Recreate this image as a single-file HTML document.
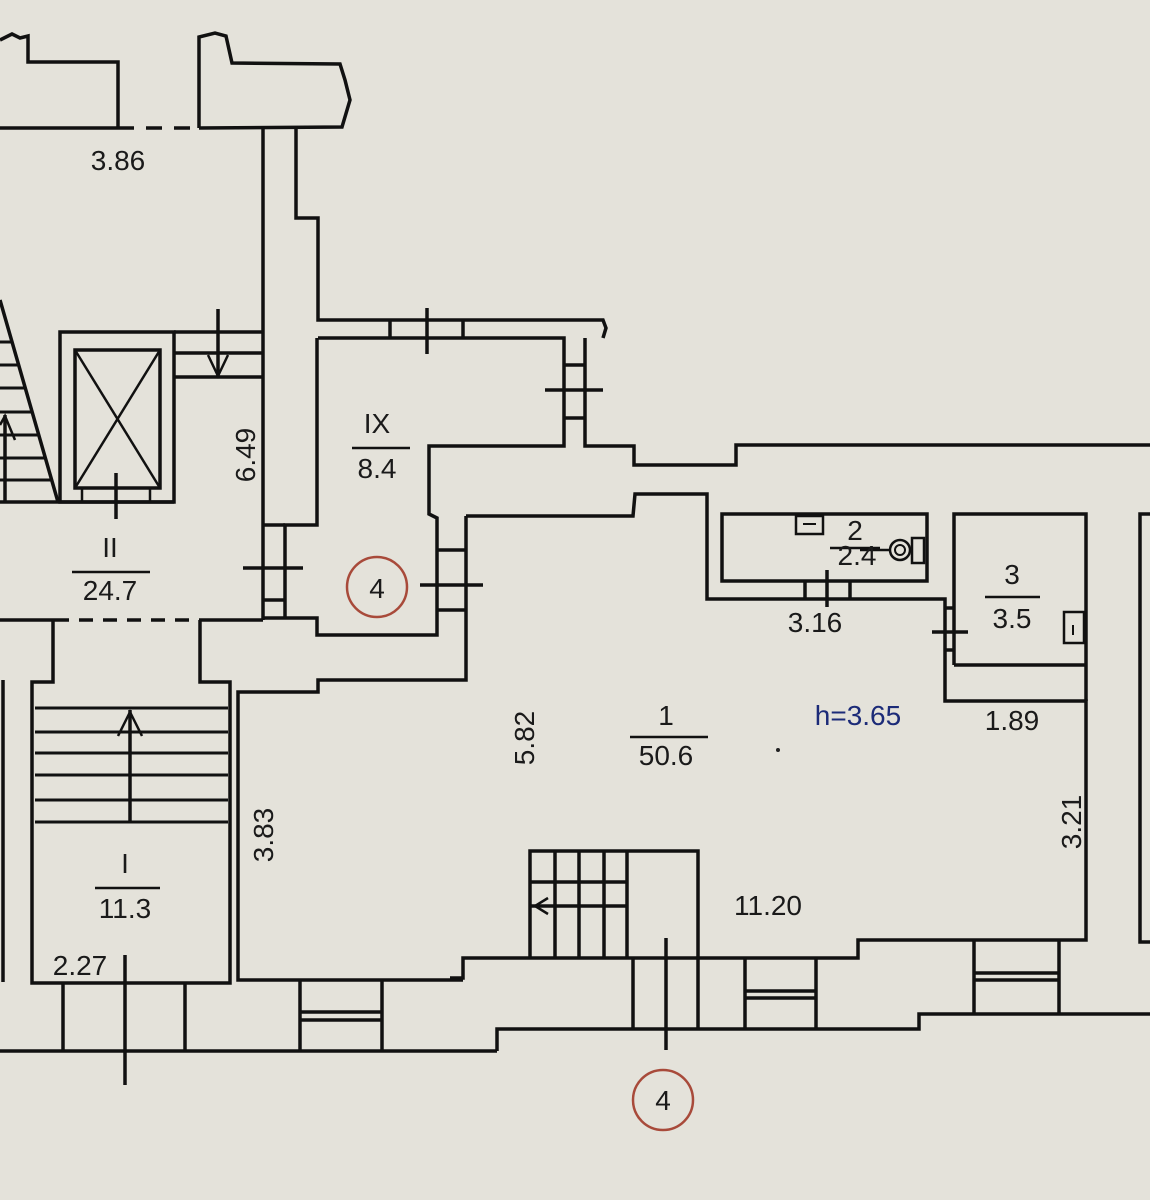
<!DOCTYPE html>
<html><head><meta charset="utf-8"><style>
html,body{margin:0;padding:0;background:#e4e2da;}
svg{display:block}
text{font-family:"Liberation Sans",sans-serif;font-size:28px;fill:#1a1a1a;text-anchor:middle}
</style></head><body>
<svg width="1150" height="1200" viewBox="0 0 1150 1200" xmlns="http://www.w3.org/2000/svg">
<rect width="1150" height="1200" fill="#e4e2da"/>
<g fill="none" stroke="#111" stroke-width="3.5" stroke-linejoin="miter">
<!-- top left -->
<polyline points="0,40 12,34 20,38 28,36 28,62 118,62 118,128"/>
<line x1="0" y1="128" x2="118" y2="128"/>
<line x1="118" y1="128" x2="200" y2="128" stroke-dasharray="16,12"/>
<polyline points="199,128 199,37 215,33 226,36 232,63 340,64 345,80 350,100 342,127 199,128"/>
<line x1="263" y1="128" x2="263" y2="620"/>
<polyline points="296,129 296,218 318,218 318,320 603,320 606,328 603,338"/>
<!-- IX room -->
<polyline points="318,338 564,338 564,446 429,446 429,514 437,518 437,635 317,635 317,618 263,618"/>
<polyline points="317,338 317,525 285,525 285,618"/>
<line x1="263" y1="525" x2="285" y2="525"/><line x1="263" y1="600" x2="285" y2="600"/>
<line x1="243" y1="568" x2="303" y2="568"/>
<line x1="390" y1="320" x2="390" y2="338"/><line x1="463" y1="320" x2="463" y2="338"/>
<line x1="427" y1="308" x2="427" y2="354"/>
<polyline points="585,338 585,446 634,446 634,465 736,465 736,445 1150,445"/>
<line x1="564" y1="365" x2="585" y2="365"/><line x1="564" y1="418" x2="585" y2="418"/>
<line x1="545" y1="390" x2="603" y2="390"/>
<line x1="437" y1="550" x2="466" y2="550"/><line x1="437" y1="610" x2="466" y2="610"/>
<line x1="420" y1="585" x2="483" y2="585"/>
<!-- room 1 -->
<polyline points="466,516 633,516 635,494 707,494 707,599 945,599 945,701 1086,701 1086,940 858,940 858,958 463,958 463,978 450,978"/>
<polyline points="466,516 466,680 318,680 318,692 238,692 238,980 463,980"/>
<!-- room 2 -->
<rect x="722" y="514" width="205" height="67"/>
<line x1="805" y1="581" x2="805" y2="599"/><line x1="850" y1="581" x2="850" y2="599"/>
<line x1="827" y1="570" x2="827" y2="607"/>
<rect x="796" y="516" width="27" height="18" stroke-width="2.5"/>
<line x1="803" y1="524" x2="816" y2="524" stroke-width="2"/>
<circle cx="900" cy="550" r="10" stroke-width="2.5"/><circle cx="900" cy="550" r="5" stroke-width="2"/>
<rect x="912" y="538" width="12" height="25" stroke-width="2.5"/>
<line x1="860" y1="550" x2="890" y2="550" stroke-width="2.5"/>
<!-- room 3 -->
<polyline points="954,665 954,514 1086,514 1086,701"/>
<line x1="954" y1="665" x2="1086" y2="665"/>
<line x1="945" y1="608" x2="954" y2="608"/><line x1="945" y1="650" x2="954" y2="650"/>
<line x1="932" y1="632" x2="968" y2="632"/>
<rect x="1064" y="612" width="20" height="31" stroke-width="2.5"/>
<line x1="1073" y1="625" x2="1073" y2="635" stroke-width="2"/>
<polyline points="1150,514 1140,514 1140,942 1150,942"/>
<!-- room 1 stairs -->
<polyline points="530,958 530,851 698,851 698,958"/>
<line x1="555" y1="851" x2="555" y2="958"/><line x1="579" y1="851" x2="579" y2="958"/>
<line x1="604" y1="851" x2="604" y2="958"/><line x1="627" y1="851" x2="627" y2="958"/>
<line x1="530" y1="882" x2="627" y2="882"/><line x1="530" y1="906" x2="627" y2="906"/>
<polyline points="548,898 535,906 548,914" stroke-width="2.5"/>
<line x1="666" y1="938" x2="666" y2="1050"/>
<!-- bottom band -->
<line x1="0" y1="1051" x2="497" y2="1051"/>
<polyline points="497,1051 497,1029 919,1029 919,1014 1150,1014"/>
<line x1="63" y1="983" x2="63" y2="1051"/><line x1="185" y1="983" x2="185" y2="1051"/>
<line x1="300" y1="980" x2="300" y2="1051"/><line x1="382" y1="980" x2="382" y2="1051"/>
<line x1="300" y1="1012" x2="382" y2="1012"/><line x1="300" y1="1020" x2="382" y2="1020"/>
<line x1="125" y1="955" x2="125" y2="1085"/>
<line x1="633" y1="958" x2="633" y2="1029"/><line x1="698" y1="958" x2="698" y2="1029"/>
<line x1="745" y1="958" x2="745" y2="1029"/><line x1="816" y1="958" x2="816" y2="1029"/>
<line x1="745" y1="991" x2="816" y2="991"/><line x1="745" y1="998" x2="816" y2="998"/>
<line x1="974" y1="940" x2="974" y2="1014"/><line x1="1059" y1="940" x2="1059" y2="1014"/>
<line x1="974" y1="973" x2="1059" y2="973"/><line x1="974" y1="980" x2="1059" y2="980"/>
<!-- hallway I / II -->
<line x1="0" y1="620" x2="55" y2="620"/>
<line x1="55" y1="620" x2="200" y2="620" stroke-dasharray="14,10"/>
<line x1="200" y1="620" x2="263" y2="620"/>
<polyline points="53,620 53,682 32,682 32,983 230,983 230,682 200,682 200,620"/>
<line x1="3" y1="680" x2="3" y2="982"/>
<g stroke-width="3">
<line x1="35" y1="708" x2="228" y2="708"/><line x1="35" y1="732" x2="228" y2="732"/>
<line x1="35" y1="753" x2="228" y2="753"/><line x1="35" y1="775" x2="228" y2="775"/>
<line x1="35" y1="800" x2="228" y2="800"/><line x1="35" y1="822" x2="228" y2="822"/>
</g>
<line x1="130" y1="822" x2="130" y2="710"/>
<polyline points="118,736 130,712 142,736" stroke-width="2.5"/>
<!-- elevator -->
<rect x="60" y="332" width="114" height="170"/>
<rect x="75" y="350" width="85" height="138"/>
<line x1="75" y1="350" x2="160" y2="488" stroke-width="2.5"/><line x1="160" y1="350" x2="75" y2="488" stroke-width="2.5"/>
<line x1="82" y1="488" x2="82" y2="502" stroke-width="2.5"/><line x1="150" y1="488" x2="150" y2="502" stroke-width="2.5"/>
<line x1="116" y1="473" x2="116" y2="519"/>
<line x1="0" y1="502" x2="174" y2="502"/>
<line x1="174" y1="332" x2="263" y2="332"/><line x1="174" y1="353" x2="263" y2="353"/><line x1="174" y1="377" x2="263" y2="377"/>
<line x1="218" y1="309" x2="218" y2="377"/>
<polyline points="208,355 218,376 228,355" stroke-width="2.5"/>
<line x1="0" y1="300" x2="58" y2="502"/>
<line x1="5" y1="415" x2="5" y2="502"/>
<g stroke-width="3">
<line x1="0" y1="342" x2="12" y2="342"/><line x1="0" y1="365" x2="19" y2="365"/>
<line x1="0" y1="388" x2="26" y2="388"/><line x1="0" y1="412" x2="33" y2="412"/>
<line x1="0" y1="435" x2="39" y2="435"/><line x1="0" y1="458" x2="46" y2="458"/>
<line x1="0" y1="480" x2="52" y2="480"/>
</g>
<polyline points="0,425 5,416 15,440" stroke-width="2.5"/>
<!-- fraction lines -->
<g stroke-width="2.5">
<line x1="352" y1="448" x2="410" y2="448"/>
<line x1="72" y1="572" x2="150" y2="572"/>
<line x1="95" y1="888" x2="160" y2="888"/>
<line x1="630" y1="737" x2="708" y2="737"/>
<line x1="830" y1="548" x2="880" y2="548"/>
<line x1="985" y1="597" x2="1040" y2="597"/>
</g>
</g>
<g fill="none" stroke="#a84a3a" stroke-width="2.5">
<circle cx="377" cy="587" r="30"/>
<circle cx="663" cy="1100" r="30"/>
</g>
<circle cx="778" cy="750" r="2" fill="#222"/>
<text x="118" y="170">3.86</text>
<text x="377" y="433">IX</text>
<text x="377" y="478">8.4</text>
<text x="110" y="557">II</text>
<text x="110" y="600">24.7</text>
<text x="125" y="873">I</text>
<text x="125" y="918">11.3</text>
<text x="80" y="975">2.27</text>
<text x="377" y="598" font-size="24">4</text>
<text x="663" y="1110" font-size="24">4</text>
<text x="666" y="725">1</text>
<text x="666" y="765">50.6</text>
<text x="858" y="725" style="fill:#1c2b78">h=3.65</text>
<text x="1012" y="730">1.89</text>
<text x="768" y="915">11.20</text>
<text x="815" y="632">3.16</text>
<text x="855" y="540">2</text>
<text x="857" y="565">2.4</text>
<text x="1012" y="584">3</text>
<text x="1012" y="628">3.5</text>
<text transform="translate(255,455) rotate(-90)">6.49</text>
<text transform="translate(273,835) rotate(-90)">3.83</text>
<text transform="translate(534,738) rotate(-90)">5.82</text>
<text transform="translate(1081,822) rotate(-90)">3.21</text>
</svg>
</body></html>
